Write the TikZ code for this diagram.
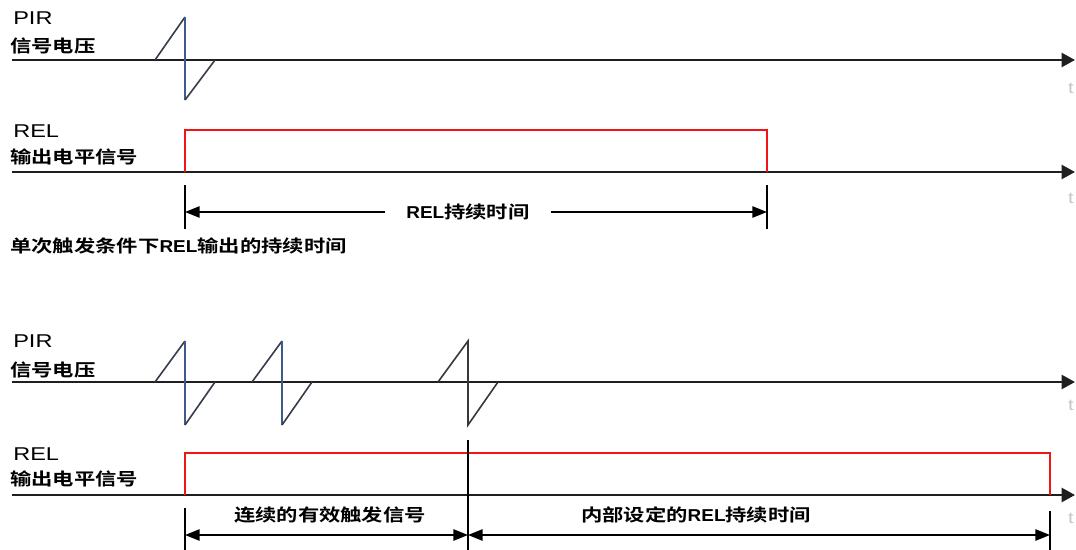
\documentclass[tikz,border=0pt]{standalone}
\usepackage{fontspec}
\setmainfont{Liberation Sans}[FakeStretch=1.27]
\newfontfamily\cjkb{Noto Sans CJK SC Bold}[FakeStretch=1.24]
\newfontfamily\latb{Liberation Sans Bold}[FakeStretch=1.1]
\usetikzlibrary{arrows.meta}
\definecolor{diag}{HTML}{363C4A}
\definecolor{pblue}{HTML}{3D5B8E}
\definecolor{pgray}{HTML}{383838}
\definecolor{relred}{HTML}{F01414}
\tikzset{
  axis/.style={line width=1.8pt, draw=black!88, -{Triangle[length=10pt,width=10.5pt]}},
  diagline/.style={line width=1.2pt, draw=diag},
  vertline/.style={line width=1.3pt, draw=pblue},
  grayline/.style={line width=1.2pt, draw=pgray},
  relsig/.style={line width=1.5pt, draw=relred},
  tickline/.style={line width=1.4pt, draw=black},
  durarrow/.style={line width=1.3pt, draw=black, -{Triangle[length=11pt,width=8.5pt]}},
  durboth/.style={line width=1.3pt, draw=black, {Triangle[length=11pt,width=8.5pt]}-{Triangle[length=11pt,width=8.5pt]}},
  latlab/.style={font=\fontsize{13.9}{16}\selectfont, anchor=west, inner sep=0pt},
  cjklab/.style={font={\cjkb\fontsize{12.9}{15}\selectfont}, anchor=west, inner sep=0pt},
  cjkmid/.style={font={\cjkb\fontsize{12.9}{15}\selectfont}, inner sep=0pt},
  tlab/.style={font=\fontsize{12}{14}\selectfont, anchor=east, inner sep=0pt, text=gray!45}
}
\begin{document}
\begin{tikzpicture}[x=0.75pt,y=-0.75pt]
\useasboundingbox (0,0) rectangle (1076,550);
\fill[white] (0,0) rectangle (1076,550);
\clip (0,0) rectangle (1076,550);

% ---------- panel 1 ----------
\node[latlab] (pir1) at (13,18) {PIR};
\node[cjklab] (sig1) at (10,46) {信号电压};
\node[latlab] (rel1) at (13,131) {REL};
\node[cjklab] (out1) at (10,157) {输出电平信号};

\coordinate (a1s) at (12,60);  \coordinate (a1e) at (1075,60);
\coordinate (b1s) at (12,172); \coordinate (b1e) at (1075,172);
\draw[axis] (a1s) -- (a1e);
\draw[axis] (b1s) -- (b1e);

% PIR pulse
\coordinate (p1a) at (155,60); \coordinate (p1t) at (185,17);
\coordinate (p1b) at (185,100); \coordinate (p1e) at (215,60);
\draw[diagline] (p1a) -- (p1t);
\draw[vertline] (p1t) -- (p1b);
\draw[diagline] (p1b) -- (p1e);

% REL output
\coordinate (r1a) at (185,172); \coordinate (r1b) at (185,130);
\coordinate (r1c) at (767,130); \coordinate (r1d) at (767,172);
\draw[relsig] (r1a) -- (r1b) -- (r1c) -- (r1d);

% duration
\coordinate (k1t) at (185,185); \coordinate (k1b) at (185,229);
\coordinate (k2t) at (767,185); \coordinate (k2b) at (767,229);
\draw[tickline] (k1t) -- (k1b);
\draw[tickline] (k2t) -- (k2b);
\coordinate (k1m) at (185,212); \coordinate (k2m) at (767,212);
\node[cjkmid, inner xsep=16pt] (dur1) at (468,212) {{\latb REL}持续时间};
\draw[durarrow] (dur1.west) -- (k1m);
\draw[durarrow] (dur1.east) -- (k2m);

\node[cjklab] (cap1) at (10,246) {单次触发条件下{\latb REL}输出的持续时间};

% ---------- panel 2 ----------
\node[latlab] (pir2) at (13,341) {PIR};
\node[cjklab] (sig2) at (10,370) {信号电压};
\node[latlab] (rel2) at (13,454) {REL};
\node[cjklab] (out2) at (10,479) {输出电平信号};

\coordinate (a2s) at (12,382);  \coordinate (a2e) at (1075,382);
\coordinate (b2s) at (12,495); \coordinate (b2e) at (1075,495);
\draw[axis] (a2s) -- (a2e);
\draw[axis] (b2s) -- (b2e);

% pulses
\foreach \xx in {155, 252} {
  \draw[diagline] (\xx,382) -- (\xx+30,341);
  \draw[vertline] (\xx+30,341) -- (\xx+30,425);
  \draw[diagline] (\xx+30,425) -- (\xx+60,382);
}
\coordinate (q3a) at (438,382); \coordinate (q3t) at (468,341);
\coordinate (q3b) at (468,425); \coordinate (q3e) at (498,382);
\draw[grayline] (q3a) -- (q3t) -- (q3b) -- (q3e);

% REL output
\coordinate (r2a) at (185,495); \coordinate (r2b) at (185,453);
\coordinate (r2c) at (1050,453); \coordinate (r2d) at (1050,495);
\draw[relsig] (r2a) -- (r2b) -- (r2c) -- (r2d);

% ticks
\coordinate (m1t) at (185,508); \coordinate (m1b) at (185,560);
\coordinate (m2t) at (468,440); \coordinate (m2b) at (468,560);
\coordinate (m3t) at (1050,511); \coordinate (m3b) at (1050,560);
\draw[tickline] (m1t) -- (m1b);
\draw[tickline] (m2t) -- (m2b);
\draw[tickline] (m3t) -- (m3b);
\coordinate (m1m) at (185,535); \coordinate (m2m) at (468,535); \coordinate (m3m) at (1050,535);
\draw[durboth] (m1m) -- (m2m);
\draw[durboth] (m2m) -- (m3m);

\node[cjkmid] (cont) at (330,515) {连续的有效触发信号};
\node[cjkmid] (intl) at (696,515) {内部设定的{\latb REL}持续时间};

% axis labels at the right edge
\node[tlab] (t1) at (1074,88) {t};
\node[tlab] (t2) at (1074,198) {t};
\node[tlab] (t3) at (1074,405) {t};
\node[tlab] (t4) at (1074,518) {t};
\end{tikzpicture}
\end{document}
